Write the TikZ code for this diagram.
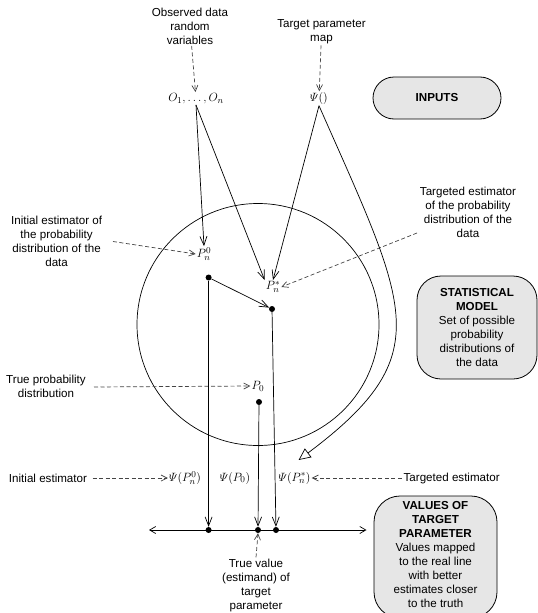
\documentclass[tikz,border=0pt]{standalone}
\usepackage{amsmath}
\usepackage{fontspec}
\setmainfont{Liberation Sans}
\usetikzlibrary{arrows.meta}

\definecolor{boxgrey}{HTML}{E6E6E6}
\definecolor{dashgrey}{HTML}{444444}

\tikzset{
  txt/.style={align=center, font=\fontsize{11.6}{14}\selectfont, inner sep=1pt},
  mth/.style={font=\fontsize{12.4}{14}\selectfont, inner sep=1pt},
  greybox/.style={draw, line width=0.8pt, fill=boxgrey, align=center, font=\fontsize{11.6}{14}\selectfont, inner sep=0pt},
  pt/.style={circle, fill, inner sep=0pt, minimum size=6pt},
  arr/.style={line width=0.7pt, -{Straight Barb[length=9pt,width=7pt]}},
  dasharr/.style={line width=0.7pt, dashgrey, dash pattern=on 4pt off 2.5pt, -{Straight Barb[length=6pt,width=6pt]}}
}

\begin{document}
\begin{tikzpicture}[x=1pt,y=-1pt]
  \useasboundingbox (0,0) rectangle (538,613);

  % inputs
  \node[txt] (obs) at (190,26.5) {Observed data\\random\\variables};
  \node[txt] (tpm) at (321.5,32) {Target parameter\\map};
  \node[mth] (O) at (196,98.5) {$O_1,\ldots,O_n$};
  \node[mth] (Psi) at (319,98.5) {$\varPsi()$};
  \node[greybox, minimum width=128pt, minimum height=42pt, rounded corners=21pt] (inputs) at (437,98) {\textbf{INPUTS}};
  \draw[dasharr] (obs) -- (O);
  \draw[dasharr] (tpm) -- (Psi);

  % model
  \draw[line width=0.7pt] (258,324.5) circle (121);
  \node[greybox, minimum width=120pt, minimum height=103pt, rounded corners=24pt] (model) at (477,327.5)
    {\textbf{STATISTICAL}\\\textbf{MODEL}\\Set of possible\\probability\\distributions of\\the data};
  \node[mth] (Pn0) at (204,254) {$P_n^0$};
  \node[mth] (Pns) at (273,287) {$P_n^*$};
  \node[mth] (P0) at (258,386) {$P_0$};
  \node[pt] (d0) at (208.6,277.5) {};
  \node[pt] (ds) at (272,309) {};
  \node[pt] (dp) at (259,402) {};

  \node[txt] (initd) at (56.6,241) {Initial estimator of\\the probability\\distribution of the\\data};
  \node[txt] (targd) at (468,212.5) {Targeted estimator\\of the probability\\distribution of the\\data};
  \node[txt] (truep) at (46,386) {True probability\\distribution};
  \coordinate (initd-e) at (113,241.5);
  \coordinate (targd-w) at (417,233);
  \coordinate (truep-e) at (94,387);
  \draw[dasharr] (initd-e) -- (Pn0.west);
  \draw[dasharr] (targd-w) -- (Pns.east);
  \draw[dasharr] (truep-e) -- (P0.west);

  % from inputs to estimators
  \draw[arr] (O.south) -- (Pn0.north);
  \draw[arr] (O.south) -- (Pns.north west);
  \draw[arr] (Psi.south) -- (Pns.north);
  \draw[arr] (d0) -- (ds);

  % real line
  \coordinate (nl-l) at (149,530);
  \coordinate (nl-r) at (366.5,530);
  \draw[line width=0.7pt, {Straight Barb[length=6pt,width=7pt]}-{Straight Barb[length=6pt,width=7pt]}] (nl-l) -- (nl-r);
  \node[pt] (v0) at (208.6,530) {};
  \node[pt] (vt) at (258,530) {};
  \node[pt] (vs) at (276,530) {};
  \draw[arr] (d0) -- (v0);
  \draw[arr] (dp) -- (vt);
  \draw[arr] (ds) -- (vs);

  \node[mth] (PsiPn0) at (185,478) {$\varPsi(P_n^0)$};
  \node[mth] (PsiP0) at (235,478) {$\varPsi(P_0)$};
  \node[mth] (PsiPns) at (294.5,478) {$\varPsi(P_n^*)$};
  \node[txt] (inite) at (48,478) {Initial estimator};
  \node[txt] (targe) at (451.7,478) {Targeted estimator};
  \coordinate (inite-e) at (92.7,478);
  \coordinate (targe-w) at (401.5,478);
  \draw[dasharr] (inite-e) -- (PsiPn0.west);
  \draw[dasharr] (targe-w) -- (PsiPns.east);

  % map of the target parameter
  \coordinate (map-tip) at (298.6,460);
  \draw[line width=0.7pt, -{Triangle[open,length=12pt,width=11pt]}] (Psi.south) .. controls (408.4,308.6) and (439,354.7) .. (map-tip);

  % values
  \node[txt] (truev) at (256,585) {True value\\(estimand) of\\target\\parameter};
  \draw[dasharr] (truev.north) -- (vt.south);
  \node[greybox, minimum width=123pt, minimum height=122pt, rounded corners=26pt] (values) at (435.5,557) {};
  \node[txt] (values-txt) at (435.5,554)
    {\textbf{VALUES OF}\\\textbf{TARGET}\\\textbf{PARAMETER}\\Values mapped\\to the real line\\with better\\estimates closer\\to the truth};
\end{tikzpicture}
\end{document}
